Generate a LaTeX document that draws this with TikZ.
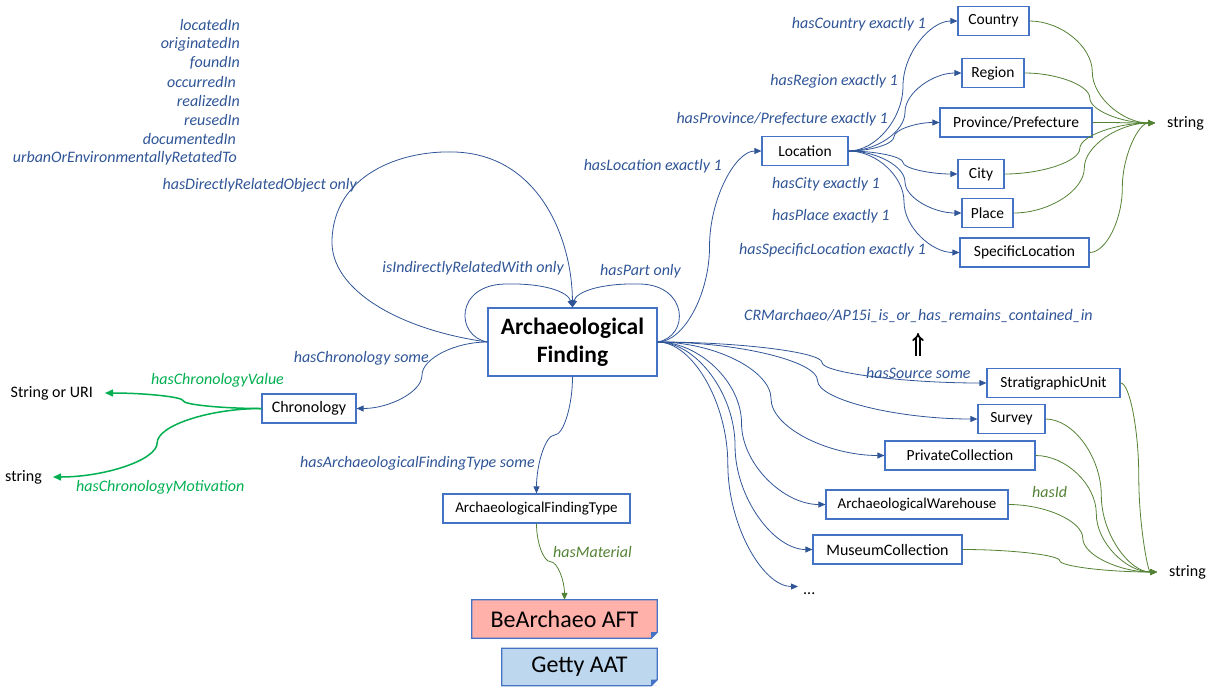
\documentclass[tikz,border=0pt]{standalone}
\usepackage{fontspec}
\setmainfont{Carlito}
\usepackage{xcolor}
\usetikzlibrary{calc,positioning,arrows.meta}

\definecolor{propblue}{HTML}{2F5597}
\definecolor{boxblue}{HTML}{4472C4}
\definecolor{olivegreen}{HTML}{548235}
\definecolor{chrongreen}{HTML}{00B050}
\definecolor{aftred}{HTML}{FFB1AA}
\definecolor{aatblue}{HTML}{BDD7EE}

\tikzset{
  cls/.style={draw=boxblue, line width=1.2pt, fill=white, font=\fontsize{15.5}{18}\selectfont, minimum height=29pt, inner xsep=2pt},
  prop/.style={font=\fontsize{16}{18}\selectfont\itshape, text=propblue, inner sep=0pt},
  lit/.style={font=\fontsize{16}{18}\selectfont, inner sep=0pt},
  rel/.style={draw=propblue, line width=0.8pt, -{Triangle[length=7pt,width=6pt]}},
  attr/.style={draw=olivegreen, line width=0.8pt, -{Triangle[length=7pt,width=6pt]}},
  chron/.style={draw=chrongreen, line width=1.5pt, -{Triangle[length=8pt,width=7pt]}},
  % curved connectors, horizontal and vertical ends
  hc/.style={to path={let \p1=(\tikztostart), \p2=(\tikztotarget) in
    .. controls ({(3*\x1+\x2)/4},\y1) and ({(\x1+\x2)/2},{(3*\y1+\y2)/4}) .. ({(\x1+\x2)/2},{(\y1+\y2)/2})
    .. controls ({(\x1+\x2)/2},{(\y1+3*\y2)/4}) and ({(\x1+3*\x2)/4},\y2) .. (\tikztotarget)}},
  vc/.style={to path={let \p1=(\tikztostart), \p2=(\tikztotarget) in
    .. controls (\x1,{(3*\y1+\y2)/4}) and ({(3*\x1+\x2)/4},{(\y1+\y2)/2}) .. ({(\x1+\x2)/2},{(\y1+\y2)/2})
    .. controls ({(\x1+3*\x2)/4},{(\y1+\y2)/2}) and (\x2,{(\y1+3*\y2)/4}) .. (\tikztotarget)}}
}

% folded corner of a vocabulary box
\newcommand{\dogear}[1]{%
  \fill[white] ([xshift=-6pt]#1.south east) -- (#1.south east) -- ([yshift=6pt]#1.south east) -- cycle;
  \draw[boxblue, line width=1.2pt] (#1.north west) -- (#1.north east) -- ([yshift=6pt]#1.south east)
    -- ([xshift=-6pt]#1.south east) -- (#1.south west) -- cycle;
  \fill[boxblue] ([yshift=6pt]#1.south east) -- ([xshift=-6pt]#1.south east) -- ([shift={(-6pt,6pt)}]#1.south east) -- cycle;
}

\begin{document}
\begin{tikzpicture}[x=1pt, y=-1pt]
    \useasboundingbox (0,0) rectangle (1210,686);

    % Archaeological Finding
    \node[cls, line width=1.3pt, minimum width=169pt, minimum height=68pt, align=center,
          font=\fontsize{23.5}{28}\selectfont\bfseries] (af) at (572.5,342) {Archaeological\\Finding};

    % related places
    \foreach \lbl/\rx [count=\i] in {locatedIn/240,originatedIn/240,foundIn/240,occurredIn/236,
        realizedIn/240,reusedIn/240,documentedIn/236,urbanOrEnvironmentallyRetatedTo/237}
        \node[prop, anchor=east] (placeRel\i) at (\rx,{6+19*\i}) {\lbl};

    % self loops
    \draw[rel] (af.west) .. controls (400,330) and (330,290) .. (332,240)
        .. controls (334,175) and (400,150) .. (455,152)
        .. controls (540,155) and (572,240) .. (af.north);
    \draw[rel] (af.west) .. controls (455,336) and (455,285) .. (505,284)
        .. controls (545,283) and (568,292) .. (af.north);
    \draw[rel] (af.east) .. controls (690,336) and (688,285) .. (640,284)
        .. controls (600,283) and (576,292) .. (af.north);
    \node[prop, anchor=east] (lblDirect) at (357,185) {hasDirectlyRelatedObject only};
    \node[prop, anchor=east] (lblIndirect) at (564,268) {isIndirectlyRelatedWith only};
    \node[prop, anchor=west] (lblPart) at (600,271) {hasPart only};

    % Location
    \node[cls, minimum width=86pt] (loc) at (805,151) {Location};
    \node[cls, minimum width=71pt] (country) at (993.5,21) {Country};
    \node[cls, minimum width=62pt] (region) at (993,73) {Region};
    \node[cls, minimum width=152pt] (prov) at (1016,122.5) {Province/Prefecture};
    \node[cls, minimum width=46pt] (city) at (981,174) {City};
    \node[cls, minimum width=51pt] (place) at (987.5,213) {Place};
    \node[cls, minimum width=129pt] (spec) at (1024.5,252.5) {SpecificLocation};
    \node[lit, anchor=west, inner xsep=12pt] (locStr) at (1155,123) {string};

    \draw[rel] (af.east) to[hc] (loc.west);
    \foreach \cl in {country,region,prov,city,place,spec} {
        \draw[rel] (loc.east) to[hc] (\cl.west);
        \draw[attr] (\cl.east) to[hc] (locStr.west);
    }
    \node[prop, anchor=east] (lblLoc) at (722,166) {hasLocation exactly 1};
    \node[prop, anchor=east] (lblCountry) at (926,24) {hasCountry exactly 1};
    \node[prop, anchor=east] (lblRegion) at (898,81) {hasRegion exactly 1};
    \node[prop, anchor=east] (lblProv) at (888,119) {hasProvince/Prefecture exactly 1};
    \node[prop, anchor=west] (lblCity) at (772,184) {hasCity exactly 1};
    \node[prop, anchor=west] (lblPlace) at (772,216) {hasPlace exactly 1};
    \node[prop, anchor=east] (lblSpec) at (926,250) {hasSpecificLocation exactly 1};

    % Chronology
    \node[cls, minimum width=94pt, font=\fontsize{16}{18}\selectfont] (chrono) at (309,408.5) {Chronology};
    \node[lit, anchor=east, inner xsep=12pt] (chronUri) at (105,393) {String or URI};
    \node[lit, anchor=east, inner xsep=11pt] (chronStr) at (53,477) {string};
    \draw[rel] (af.west) to[hc] (chrono.east);
    \draw[chron] (chrono.west) to[hc] (chronUri.east);
    \draw[chron] (chrono.west) to[hc] (chronStr.east);
    \node[prop, anchor=east] (lblChrono) at (429,358) {hasChronology some};
    \node[prop, anchor=west, text=chrongreen] (lblValue) at (151,380) {hasChronologyValue};
    \node[prop, anchor=west, text=chrongreen] (lblMotiv) at (76,487) {hasChronologyMotivation};

    % Finding type and vocabularies
    \node[cls, minimum width=187pt, font=\fontsize{15}{18}\selectfont] (aft) at (536.5,508.5) {ArchaeologicalFindingType};
    \node[font=\fontsize{24}{28}\selectfont, fill=aftred, minimum width=185pt, minimum height=38pt] (bea) at (564.5,619) {BeArchaeo AFT};
    \dogear{bea}
    \node[font=\fontsize{24}{28}\selectfont, fill=aatblue, minimum width=155pt, minimum height=37pt] (getty) at (579.5,667) {Getty AAT};
    \dogear{getty}
    \draw[rel] (af.south) to[vc] (aft.north);
    \draw[attr] (aft.south) to[vc] (bea.north);
    \node[prop, anchor=east] (lblType) at (535,463) {hasArchaeologicalFindingType some};
    \node[prop, anchor=west, text=olivegreen] (lblMat) at (553,552) {hasMaterial};

    % Sources
    \node[prop, anchor=west] (lblCrm) at (744,316) {CRMarchaeo/AP15i\_is\_or\_has\_remains\_contained\_in};
    \draw[-{Implies}, double, double distance=2pt, line width=1.7pt] (918,356) -- (918,333);
    \node[cls, minimum width=133pt] (strat) at (1053.5,383) {StratigraphicUnit};
    \node[cls, minimum width=67pt] (survey) at (1011.5,419) {Survey};
    \node[cls, minimum width=150pt] (priv) at (960,455.5) {PrivateCollection};
    \node[cls, minimum width=182pt, font=\fontsize{15}{18}\selectfont] (wareh) at (917,504.5) {ArchaeologicalWarehouse};
    \node[cls, minimum width=149pt, font=\fontsize{16}{18}\selectfont] (museum) at (887.5,549.5) {MuseumCollection};
    \node[lit, anchor=base west, inner xsep=5pt, text height=15pt, text depth=0pt] (dots) at (798,594) {...};
    \node[lit, anchor=west, inner xsep=12pt] (srcStr) at (1157,572) {string};

    \foreach \cl in {strat,survey,priv,wareh,museum} {
        \draw[rel] (af.east) to[hc] (\cl.west);
        \draw[attr] (\cl.east) to[hc] (srcStr.west);
    }
    \draw[rel] (af.east) to[hc] (dots.west);
    \node[prop, anchor=west] (lblSource) at (866,373) {hasSource some};
    \node[prop, anchor=west, text=olivegreen] (lblId) at (1032,492) {hasId};
\end{tikzpicture}
\end{document}
